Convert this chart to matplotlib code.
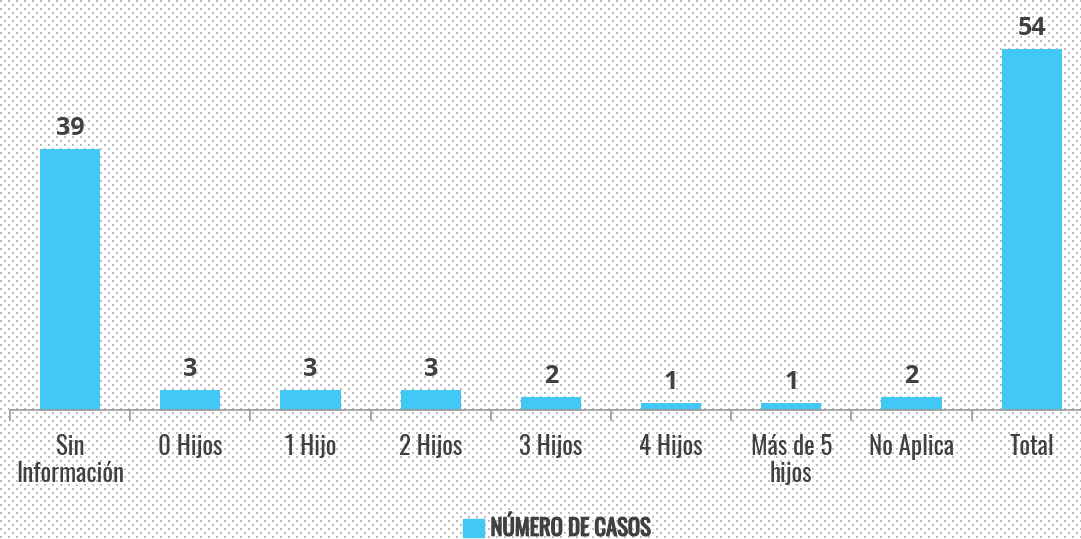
import numpy as np
import matplotlib.pyplot as plt
import matplotlib.patheffects as pe
from matplotlib.patches import Patch

categories = ["Sin\nInformación", "0 Hijos", "1 Hijo", "2 Hijos", "3 Hijos",
              "4 Hijos", "Más de 5\nhijos", "No Aplica", "Total"]
casos = [39, 3, 3, 3, 2, 1, 1, 2, 54]
series_name = "NÚMERO DE CASOS"

bar_color = "#42C8F4"
text_color = "#404040"
label_fonts = ["Oswald Light", "Oswald", "Liberation Sans Narrow", "DejaVu Sans"]
value_fonts = ["Open Sans", "DejaVu Sans"]
plt.rcParams['font.family'] = label_fonts

W, H = 1081, 539
fig = plt.figure(figsize=(W / 100, H / 100), dpi=100)

# dotted background pattern, in its own axes behind everything
bg = np.ones((H, W, 3))
yy, xx = np.mgrid[0:H, 0:W]
dots = ((yy % 4) < 2) & (((xx + 4 * ((yy // 4) % 2)) % 8) < 2)
bg[dots] = 0.74
bgax = fig.add_axes([0, 0, 1, 1], zorder=-1)
bgax.imshow(bg, interpolation='nearest', aspect='auto')
bgax.axis('off')

ax = fig.add_axes([10 / W, (H - 410) / H, 1071 / W, 410 / H], zorder=1)
ax.patch.set_alpha(0)

x = np.arange(len(categories))
ax.bar(x, casos, width=0.5, color=bar_color, zorder=2)
for xi, v in zip(x, casos):
    ax.text(xi, v + 1.2, str(v), ha='center', va='bottom', fontsize=18,
            fontweight='bold', color=text_color, family=value_fonts)

ax.set_xlim(-0.5, 8.41)
ax.set_ylim(0, 61.3)
for s in ['top', 'right', 'left']:
    ax.spines[s].set_visible(False)
ax.spines['bottom'].set_color('#999999')
ax.spines['bottom'].set_linewidth(1.2)
ax.set_yticks([])

ax.set_xticks(x - 0.5, minor=False)
ax.set_xticklabels([])
ax.tick_params(axis='x', which='major', length=8, color='#999999', width=1.2)
ax.set_xticks(x, minor=True)
ax.set_xticklabels(categories, minor=True, fontsize=18, color=text_color,
                   linespacing=1.05, fontweight='light')
ax.tick_params(axis='x', which='minor', length=0, pad=17)

leg = fig.legend(handles=[Patch(color=bar_color, label=series_name)],
                 loc='center', bbox_to_anchor=(557 / W, (H - 528) / H),
                 frameon=False, handlelength=0.9, handleheight=0.9,
                 handletextpad=0.3, prop={'size': 16.3, 'family': ["Oswald", "DejaVu Sans"]})
for t in leg.get_texts():
    t.set_color(text_color)
    t.set_path_effects([pe.withStroke(linewidth=0.9, foreground=text_color)])

fig.savefig("out.png", dpi=100)
